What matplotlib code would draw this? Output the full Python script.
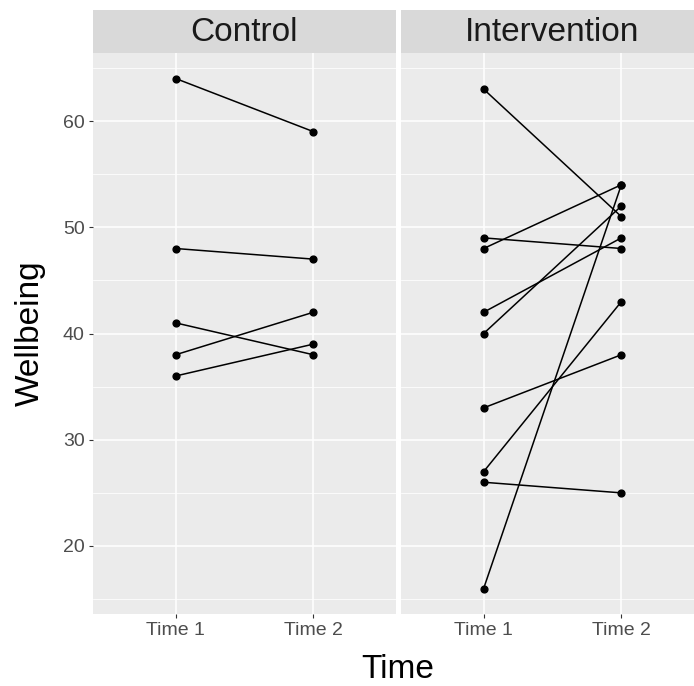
import matplotlib
matplotlib.use("Agg")
import matplotlib.pyplot as plt
import numpy as np

plt.rcParams['font.family'] = ['Liberation Sans', 'DejaVu Sans']

groups = ["Control", "Intervention"]
times = ["Time 1", "Time 2"]
control_t1 = [64, 48, 41, 38, 36]
control_t2 = [59, 47, 38, 42, 39]
interv_t1 = [63, 49, 48, 42, 40, 33, 27, 26, 16]
interv_t2 = [51, 48, 54, 49, 52, 38, 43, 25, 54]

W, H = 694, 686
fig = plt.figure(figsize=(W / 100, H / 100), dpi=100)

def px_axes(x0, y0, x1, y1):
    # pixel box (top-left origin) -> figure fraction
    return fig.add_axes([x0 / W, 1 - y1 / H, (x1 - x0) / W, (y1 - y0) / H])

ymin, ymax = 13.6, 66.4
panel_w = 303
lefts = [93, 401]
data = [(control_t1, control_t2), (interv_t1, interv_t2)]

for i, (name, (t1, t2)) in enumerate(zip(groups, data)):
    x0 = lefts[i]
    ax = px_axes(x0, 53, x0 + panel_w, 614)
    ax.set_facecolor('#EBEBEB')
    ax.set_xlim(-0.6, 1.6)
    ax.set_ylim(ymin, ymax)
    ax.set_yticks([20, 30, 40, 50, 60])
    ax.set_yticks([15, 25, 35, 45, 55, 65], minor=True)
    ax.set_xticks([0, 1])
    ax.set_xticklabels(times)
    ax.grid(True, which='major', color='white', linewidth=1.1)
    ax.grid(True, which='minor', axis='y', color='white', linewidth=0.55)
    ax.set_axisbelow(True)
    for s in ax.spines.values():
        s.set_visible(False)
    ax.tick_params(which='major', length=3, width=0.8, color='#333333',
                   labelcolor='#4D4D4D', labelsize=14, pad=3)
    ax.tick_params(which='minor', length=0)
    if i > 0:
        ax.tick_params(axis='y', labelleft=False, left=False)
    for a, b in zip(t1, t2):
        ax.plot([0, 1], [a, b], color='black', linewidth=1.1, zorder=3)
    ax.scatter(np.zeros(len(t1)), t1, s=24, color='black', zorder=4)
    ax.scatter(np.ones(len(t2)), t2, s=24, color='black', zorder=4)

    sax = px_axes(x0, 10, x0 + panel_w, 53)
    sax.set_facecolor('#D9D9D9')
    sax.set_xticks([])
    sax.set_yticks([])
    for s in sax.spines.values():
        s.set_visible(False)
    sax.text(0.5, 0.47, name, ha='center', va='center', fontsize=24,
             color='#1A1A1A', transform=sax.transAxes)

fig.text(30 / W, 1 - 333 / H, "Wellbeing", rotation=90, ha='center',
         va='center', fontsize=24)
fig.text(398 / W, 1 - 670 / H, "Time", ha='center', va='center', fontsize=24)

fig.savefig("out.png", dpi=100)
